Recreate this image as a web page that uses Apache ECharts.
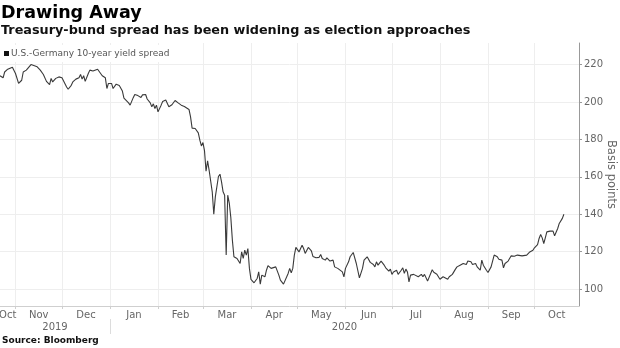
<!DOCTYPE html>
<html>
<head>
<meta charset="utf-8">
<script src="https://cdn.jsdelivr.net/npm/echarts@6/dist/echarts.min.js"></script>
<style>
  html, body { margin: 0; padding: 0; background: #fff; }
  #chart { width: 620px; height: 348px; }
</style>
</head>
<body>
<div id="chart"></div>
<script>
// U.S.-Germany 10-year yield spread, basis points
const dates = [
  '2019-10-22','2019-10-24','2019-10-25','2019-10-27','2019-10-28','2019-10-30',
  '2019-11-01','2019-11-03','2019-11-04','2019-11-05','2019-11-06','2019-11-08','2019-11-09','2019-11-11','2019-11-12','2019-11-15',
  '2019-11-17','2019-11-19','2019-11-21','2019-11-23','2019-11-24','2019-11-25','2019-11-27','2019-11-29',
  '2019-12-01','2019-12-02','2019-12-04','2019-12-05','2019-12-07','2019-12-08','2019-12-10','2019-12-12','2019-12-13','2019-12-14',
  '2019-12-15','2019-12-16','2019-12-18','2019-12-19','2019-12-21','2019-12-22','2019-12-24','2019-12-25','2019-12-27','2019-12-29',
  '2019-12-30','2019-12-31',
  '2020-01-02','2020-01-03','2020-01-05','2020-01-07','2020-01-09','2020-01-10','2020-01-13','2020-01-14','2020-01-16','2020-01-17',
  '2020-01-19','2020-01-21','2020-01-22','2020-01-24','2020-01-25','2020-01-27','2020-01-28','2020-01-29','2020-01-30','2020-01-31',
  '2020-02-01','2020-02-03','2020-02-04','2020-02-06','2020-02-08','2020-02-10','2020-02-11','2020-02-12','2020-02-14','2020-02-16',
  '2020-02-17','2020-02-18','2020-02-19','2020-02-21','2020-02-22','2020-02-23','2020-02-25','2020-02-27','2020-02-28','2020-02-29',
  '2020-03-01','2020-03-02','2020-03-03','2020-03-04','2020-03-05','2020-03-07','2020-03-08','2020-03-09','2020-03-11','2020-03-12',
  '2020-03-13','2020-03-14','2020-03-15','2020-03-16','2020-03-17','2020-03-18','2020-03-19','2020-03-20','2020-03-21','2020-03-23',
  '2020-03-24','2020-03-25','2020-03-26','2020-03-27','2020-03-28','2020-03-29','2020-03-30','2020-03-31',
  '2020-04-01','2020-04-03','2020-04-04','2020-04-05','2020-04-06','2020-04-07','2020-04-08','2020-04-10','2020-04-11','2020-04-12',
  '2020-04-14','2020-04-15','2020-04-17','2020-04-19','2020-04-20','2020-04-22','2020-04-23','2020-04-25','2020-04-26','2020-04-27',
  '2020-04-28','2020-04-29','2020-04-30',
  '2020-05-02','2020-05-03','2020-05-04','2020-05-05','2020-05-06','2020-05-08','2020-05-10','2020-05-11','2020-05-12','2020-05-13',
  '2020-05-15','2020-05-16','2020-05-17','2020-05-19','2020-05-20','2020-05-22','2020-05-24','2020-05-25','2020-05-27','2020-05-28',
  '2020-05-30','2020-05-31',
  '2020-06-01','2020-06-03','2020-06-04','2020-06-06','2020-06-07','2020-06-08','2020-06-10','2020-06-12','2020-06-13','2020-06-15',
  '2020-06-16','2020-06-17','2020-06-19','2020-06-20','2020-06-21','2020-06-22','2020-06-24','2020-06-25','2020-06-26','2020-06-27',
  '2020-06-29','2020-06-30',
  '2020-07-01','2020-07-02','2020-07-04','2020-07-05','2020-07-07','2020-07-08','2020-07-09','2020-07-10','2020-07-11','2020-07-12',
  '2020-07-13','2020-07-15','2020-07-16','2020-07-18','2020-07-20','2020-07-21','2020-07-22','2020-07-24','2020-07-25','2020-07-27',
  '2020-07-28','2020-07-30','2020-07-31',
  '2020-08-01','2020-08-03','2020-08-04','2020-08-06','2020-08-07','2020-08-09','2020-08-11','2020-08-12','2020-08-14','2020-08-16',
  '2020-08-18','2020-08-19','2020-08-21','2020-08-22','2020-08-24','2020-08-25','2020-08-27','2020-08-28','2020-08-29','2020-08-31',
  '2020-09-01','2020-09-03','2020-09-04','2020-09-05','2020-09-07','2020-09-08','2020-09-10','2020-09-11','2020-09-12','2020-09-14',
  '2020-09-15','2020-09-16','2020-09-18','2020-09-20','2020-09-21','2020-09-23','2020-09-24','2020-09-26','2020-09-27','2020-09-28',
  '2020-09-30',
  '2020-10-01','2020-10-03','2020-10-04','2020-10-05','2020-10-06','2020-10-07','2020-10-08','2020-10-09','2020-10-11','2020-10-12',
  '2020-10-13','2020-10-14','2020-10-16','2020-10-17','2020-10-19','2020-10-20'
];

const spread = [
  214.0,212.9,216.0,217.5,217.0,218.6,
  215.2,209.9,209.3,211.6,216.0,217.0,216.0,220.0,219.3,218.8,
  217.0,214.7,211.0,209.3,212.6,210.7,212.6,213.4,
  212.9,212.2,208.0,206.8,208.9,210.7,212.2,212.9,214.7,212.2,
  214.0,211.0,215.2,217.0,216.5,216.0,217.5,216.5,214.0,212.9,
  207.2,209.9,
  209.9,207.2,209.5,208.8,205.8,202.0,199.5,198.3,202.3,204.0,
  203.4,202.4,203.8,204.0,201.6,199.5,197.4,199.0,196.5,198.3,
  194.7,198.3,200.2,201.0,197.4,198.5,199.2,200.8,199.5,198.3,
  198.3,197.6,198.5,196.0,192.0,186.0,185.8,183.5,179.6,176.5,
  178.3,174.0,163.0,168.5,163.5,152.0,140.0,149.3,160.2,161.4,
  157.3,152.0,150.2,118.2,150.2,146.0,138.2,126.2,117.3,116.4,
  116.9,113.7,119.9,116.4,120.8,118.2,121.7,111.1,
  105.2,103.4,103.4,105.7,109.2,102.7,107.5,106.6,110.1,112.6,
  111.1,110.1,111.9,107.5,104.8,102.7,103.0,108.4,111.1,108.7,
  111.1,118.2,122.3,
  119.9,119.9,123.5,121.7,119.1,122.3,120.5,117.5,118.0,116.8,
  117.0,118.5,116.4,115.5,116.7,115.0,115.5,111.9,111.1,110.7,
  109.2,106.6,
  111.1,114.6,117.3,119.6,119.9,113.7,106.0,111.1,115.5,117.3,
  117.8,114.3,113.2,111.9,114.6,112.8,115.0,115.5,112.8,111.4,
  109.6,110.7,
  107.9,109.2,110.1,107.9,110.1,111.4,108.4,110.7,109.2,103.9,
  107.5,107.9,107.5,106.6,107.9,106.6,107.9,104.3,105.0,110.4,
  109.0,108.0,108.8,
  105.3,106.6,106.0,105.3,106.6,107.9,110.7,111.9,112.8,113.7,
  113.2,115.0,114.6,113.2,113.7,111.9,110.1,115.5,112.8,110.1,
  108.9,111.9,112.4,118.2,117.3,116.0,115.5,111.4,113.7,115.0,
  115.5,117.8,117.6,118.2,119.1,117.8,117.3,118.2,119.1,119.9,
  120.8,
  122.1,123.8,127.1,129.2,127.4,124.4,127.4,130.6,131.0,132.0,
  131.0,128.5,132.4,135.1,137.8,140.0
];

const yTicks = [100, 120, 140, 160, 180, 200, 220];
const monthNames = ['Jan','Feb','Mar','Apr','May','Jun','Jul','Aug','Sep','Oct','Nov','Dec'];
const monthStarts = [
  '2019-11-01','2019-12-01','2020-01-01','2020-02-01','2020-03-01','2020-04-01',
  '2020-05-01','2020-06-01','2020-07-01','2020-08-01','2020-09-01','2020-10-01'
];
const yearStart = '2020-01-01';

// local-time timestamp from 'YYYY-MM-DD'
function ts(s) {
  const p = s.split('-').map(Number);
  return new Date(p[0], p[1] - 1, p[2]).getTime();
}

const xMin = ts('2019-10-22');
const xMax = new Date(2020, 9, 29, 18).getTime();
const yMin = 91;
const yMax = 231.5;

const monthTicks = monthStarts.map(ts);
const bounds = [xMin].concat(monthTicks, [xMax]);
const monthMids = [];
for (let i = 0; i < bounds.length - 1; i++) monthMids.push((bounds[i] + bounds[i + 1]) / 2);
const yb = ts(yearStart);
const yearMids = [(xMin + yb) / 2, (yb + xMax) / 2];

const seriesData = dates.map((d, i) => [ts(d), spread[i]]);

const FONT = 'DejaVu Sans';
const chart = echarts.init(document.getElementById('chart'), null, { renderer: 'canvas' });

chart.setOption({
  animation: false,
  backgroundColor: '#fff',
  textStyle: { fontFamily: FONT },
  title: [
    {
      text: 'Drawing Away',
      left: 1, top: 4, padding: 0,
      textStyle: { fontFamily: FONT, fontWeight: 'bold', fontSize: 17.5, color: '#000' }
    },
    {
      text: 'Treasury-bund spread has been widening as election approaches',
      left: 1, top: 24, padding: 0,
      textStyle: { fontFamily: FONT, fontWeight: 'bold', fontSize: 12.8, color: '#111' }
    },
    {
      text: 'Source: Bloomberg',
      left: 2, top: 336, padding: 0,
      textStyle: { fontFamily: FONT, fontWeight: 'bold', fontSize: 9, color: '#111' }
    }
  ],
  legend: {
    left: 0, top: 45,
    padding: [4, 8, 4, 4],
    backgroundColor: '#fff',
    icon: 'rect',
    itemWidth: 5, itemHeight: 5, itemGap: 0,
    textStyle: { fontFamily: FONT, fontSize: 9, color: '#555', padding: [0, 0, 0, -3] },
    data: ['U.S.-Germany 10-year yield spread']
  },
  grid: { left: 0, right: 41, top: 43, bottom: 42, containLabel: false, outerBoundsMode: 'none' },
  xAxis: [
    {
      type: 'value', min: xMin, max: xMax,
      axisLine: { show: true, lineStyle: { color: '#cfcfcf', width: 1 } },
      axisTick: { show: true, length: 3, lineStyle: { color: '#cfcfcf' }, customValues: monthTicks },
      splitLine: { show: true, lineStyle: { color: '#eeeeee', width: 1 }, customValues: monthTicks },
      axisLabel: {
        show: true, margin: 4, fontSize: 10, color: '#666', fontFamily: FONT,
        customValues: monthMids,
        formatter: v => monthNames[new Date(v).getMonth()]
      }
    },
    {
      type: 'value', min: xMin, max: xMax, position: 'bottom', offset: 13,
      axisLine: { show: false },
      axisTick: { show: true, length: 15, lineStyle: { color: '#dcdcdc' }, customValues: [yb] },
      splitLine: { show: false },
      axisLabel: {
        show: true, margin: 3, fontSize: 10, color: '#666', fontFamily: FONT,
        customValues: yearMids,
        formatter: v => String(new Date(v).getFullYear())
      }
    }
  ],
  yAxis: {
    type: 'value', position: 'right', min: yMin, max: yMax,
    name: 'Basis points', nameLocation: 'middle', nameRotate: -90, nameGap: 26,
    nameMoveOverlap: false,
    nameTextStyle: { fontFamily: FONT, fontSize: 11.5, color: '#666' },
    axisLine: { show: true, lineStyle: { color: '#999', width: 1 } },
    axisTick: { show: true, length: 3, lineStyle: { color: '#999' }, customValues: yTicks },
    splitLine: { show: true, lineStyle: { color: '#eeeeee', width: 1 }, customValues: yTicks },
    axisLabel: { show: true, margin: 5, fontSize: 10, color: '#666', fontFamily: FONT, customValues: yTicks }
  },
  series: [
    {
      name: 'U.S.-Germany 10-year yield spread',
      type: 'line',
      xAxisIndex: 0,
      data: seriesData,
      showSymbol: false,
      symbol: 'none',
      color: '#111',
      lineStyle: { color: '#3a3a3a', width: 1.1 },
      z: 3
    }
  ]
});
</script>
</body>
</html>
